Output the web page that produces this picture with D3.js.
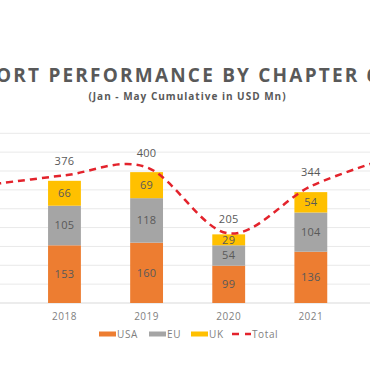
<!DOCTYPE html>
<html>
<head>
<meta charset="utf-8">
<script src="https://cdn.jsdelivr.net/npm/d3@7"></script>
<style>
  body { margin: 0; background: #fff; }
  text { font-family: "Open Sans", "DejaVu Sans", sans-serif; }
</style>
</head>
<body>
<div id="chart"></div>
<script>
const width = 370;
const height = 384;

// data
const years = ["2017", "2018", "2019", "2020", "2021", "2022"];
const barYears = ["2018", "2019", "2020", "2021"];
const usa = [153, 160, 99, 136];
const eu = [105, 118, 54, 104];
const uk = [66, 69, 29, 54];
const total = [346, 376, 400, 205, 344, 431];
const totalLabels = [null, 376, 400, 205, 344, null];
const series = ["USA", "EU", "UK"];
const colors = ["#ED7D31", "#A5A5A5", "#FFC000"];

const svg = d3.select("#chart").append("svg")
  .attr("width", width)
  .attr("height", height);

svg.append("rect").attr("width", width).attr("height", height).attr("fill", "#fff");

const x = d3.scaleBand()
  .domain(years)
  .range([-58.7, 434])
  .paddingInner(0.6)
  .paddingOuter(0.3);

const y = d3.scaleLinear().domain([0, 450]).range([303, 133.3]);
const yLine = d3.scaleLinear().domain([0, 500]).range([303, 133.3]);

// gridlines
svg.append("g")
  .selectAll("line")
  .data(y.ticks(9))
  .enter().append("line")
    .attr("x1", 0)
    .attr("x2", width)
    .attr("y1", d => y(d))
    .attr("y2", d => y(d))
    .attr("stroke", d => d === 0 ? "#d9d9d9" : "#e9e9e9")
    .attr("stroke-width", 1);

// stacked bars
const rows = barYears.map((yr, i) => ({ year: yr, USA: usa[i], EU: eu[i], UK: uk[i] }));
const stacked = d3.stack().keys(series)(rows);

const layer = svg.append("g")
  .selectAll("g")
  .data(stacked)
  .enter().append("g")
    .attr("fill", (d, i) => colors[i]);

layer.selectAll("rect")
  .data(d => d)
  .enter().append("rect")
    .attr("x", d => x(d.data.year))
    .attr("width", x.bandwidth())
    .attr("y", d => y(d[1]))
    .attr("height", d => y(d[0]) - y(d[1]));

layer.selectAll("text")
  .data(d => d)
  .enter().append("text")
    .attr("x", d => x(d.data.year) + x.bandwidth() / 2)
    .attr("y", d => (y(d[0]) + y(d[1])) / 2)
    .attr("dy", "0.35em")
    .attr("text-anchor", "middle")
    .attr("font-size", 11)
    .attr("letter-spacing", 0.3)
    .attr("fill", "#595959")
    .text(d => d[1] - d[0]);

// total line
const pts = years.map((yr, i) => [x(yr) + x.bandwidth() / 2, yLine(total[i])]);
svg.append("path")
  .attr("d", d3.line().curve(d3.curveCardinal.tension(0))(pts))
  .attr("fill", "none")
  .attr("stroke", "#E3232C")
  .attr("stroke-width", 2.5)
  .attr("stroke-dasharray", "7,5");

svg.append("g")
  .selectAll("text")
  .data(years.map((yr, i) => ({ year: yr, v: totalLabels[i], t: total[i] })).filter(d => d.v !== null))
  .enter().append("text")
    .attr("x", d => x(d.year) + x.bandwidth() / 2)
    .attr("y", d => yLine(d.t) - 10)
    .attr("text-anchor", "middle")
    .attr("font-size", 11)
    .attr("letter-spacing", 0.3)
    .attr("fill", "#595959")
    .text(d => d.v);

// x axis labels
svg.append("g")
  .selectAll("text")
  .data(barYears)
  .enter().append("text")
    .attr("x", d => x(d) + x.bandwidth() / 2)
    .attr("y", 316)
    .attr("dy", "0.35em")
    .attr("text-anchor", "middle")
    .attr("font-size", 10)
    .attr("letter-spacing", 0.5)
    .attr("fill", "#7f7f7f")
    .text(d => d);

// title (cut at both sides like the reference)
const title = svg.append("text")
  .attr("y", 82)
  .attr("font-size", 19)
  .attr("font-weight", 700)
  .attr("letter-spacing", 2.2)
  .attr("fill", "#595959")
  .text("EXPORT PERFORMANCE BY CHAPTER 61");
const pre = svg.append("text")
  .attr("font-size", 19)
  .attr("font-weight", 700)
  .attr("letter-spacing", 2.2)
  .text("EXP");
const preW = pre.node().getComputedTextLength();
pre.remove();
title.attr("x", -preW - 4);

svg.append("text")
  .attr("x", 187.5)
  .attr("y", 100)
  .attr("text-anchor", "middle")
  .attr("font-size", 10)
  .attr("font-weight", 700)
  .attr("letter-spacing", 1)
  .attr("fill", "#595959")
  .text("(Jan - May Cumulative in USD Mn)");

// legend
const legendItems = series.map((s, i) => ({ name: s, color: colors[i], type: "bar" }))
  .concat([{ name: "Total", color: "#E3232C", type: "line" }]);
const legendX = [99, 149, 191, 232];
const legend = svg.append("g")
  .selectAll("g")
  .data(legendItems)
  .enter().append("g")
    .attr("transform", (d, i) => `translate(${legendX[i]},334)`);

legend.filter(d => d.type === "bar").append("rect")
  .attr("y", -2.5)
  .attr("width", 17)
  .attr("height", 5)
  .attr("fill", d => d.color);

legend.filter(d => d.type === "line").append("line")
  .attr("x1", 0).attr("x2", 19)
  .attr("stroke", d => d.color)
  .attr("stroke-width", 2.5)
  .attr("stroke-dasharray", "7,6");

legend.append("text")
  .attr("x", d => d.type === "bar" ? 18 : 20)
  .attr("dy", "0.35em")
  .attr("font-size", 10)
  .attr("letter-spacing", 0.6)
  .attr("fill", "#7f7f7f")
  .text(d => d.name);
</script>
</body>
</html>
